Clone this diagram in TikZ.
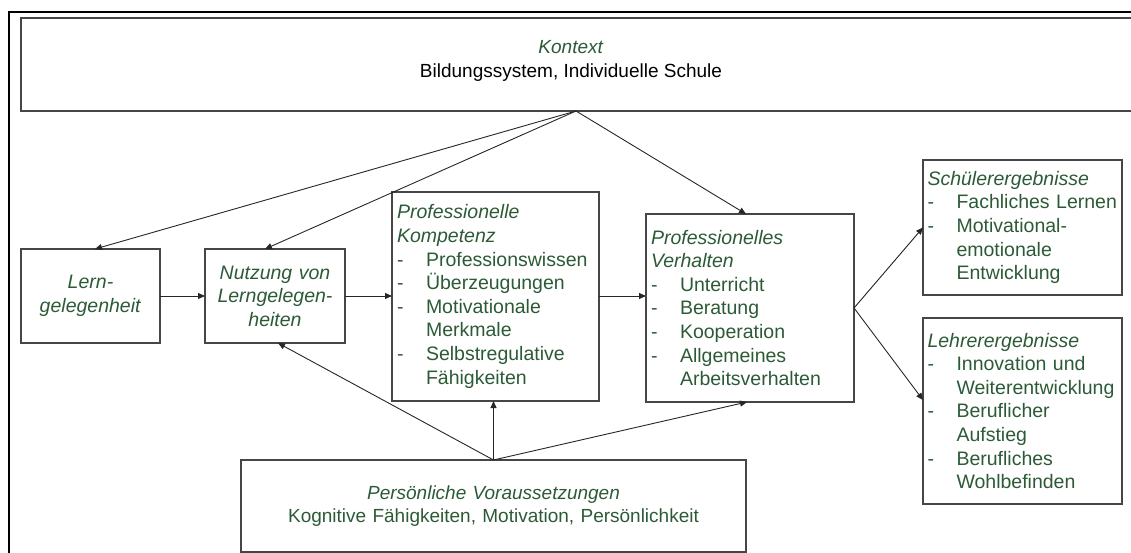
\documentclass[tikz,border=0pt]{standalone}
\usepackage{fontspec}
\setmainfont{Liberation Sans}
\usetikzlibrary{arrows.meta,calc}
\definecolor{tgreen}{RGB}{44,90,54}
\definecolor{boxgray}{RGB}{70,70,70}
\newcommand\itm[1]{\makebox[29pt][l]{-}\mbox{#1}}
\newcommand\itc[1]{\hspace*{29pt}\mbox{#1}}
\begin{document}
\begin{tikzpicture}[x=1pt,y=-1pt,
  every node/.style={font=\fontsize{19}{23.6}\selectfont, text=tgreen},
  box/.style={draw=boxgray, line width=1.2pt, rectangle, inner xsep=5pt, inner ysep=0pt, outer sep=0pt},
  lbox/.style={box, align=left, font=\fontsize{19.5}{23.6}\selectfont},
  cbox/.style={box, align=center, font=\fontsize{19.5}{23.6}\selectfont},
  arr/.style={draw=black!85, line width=0.9pt, -{Triangle[length=7pt,width=6pt]}}
]
\useasboundingbox (0,0) rectangle (1131,553);
\clip (0,0) rectangle (1131,553);
% outer frame
\draw[line width=2pt, black] (9,560) -- (9,12.5) -- (1140,12.5);
% context
\node[box, minimum width=1119pt, minimum height=93pt] (ctx) at (580.5,64.5) {};
\node[align=center, inner sep=0pt] (ctxtext) at (571,61) {\textit{Kontext}\\\textcolor{black}{Bildungssystem, Individuelle Schule}};
\coordinate (apex) at (576,111);
% row boxes
\node[cbox, text width=129pt, minimum height=94pt] (lg) at (90.5,296) {\textit{Lern-}\\\textit{gelegenheit}};
\node[cbox, text width=130pt, minimum height=94pt] (nl) at (275,296) {\textit{Nutzung von}\\\textit{Lerngelegen-}\\\textit{heiten}};
\node[lbox, text width=197pt, minimum height=209pt] (pk) at (495.5,296.5) {\textit{Professionelle}\\\textit{Kompetenz}\\\itm{Professionswissen}\\\itm{Überzeugungen}\\\itm{Motivationale}\\\itc{Merkmale}\\\itm{Selbstregulative}\\\itc{Fähigkeiten}};
\node[lbox, text width=198pt, minimum height=188pt] (vh) at (750,308) {\textit{Professionelles}\\\textit{Verhalten}\\\itm{Unterricht}\\\itm{Beratung}\\\itm{Kooperation}\\\itm{Allgemeines}\\\itc{Arbeitsverhalten}};
\node[lbox, text width=190pt, inner xsep=4.5pt, minimum height=135pt] (su) at (1022.5,227.5) {\textit{Schülerergebnisse}\\\itm{Fachliches Lernen}\\\itm{Motivational-}\\\itc{emotionale}\\\itc{Entwicklung}};
\node[lbox, text width=190pt, inner xsep=4.5pt, minimum height=186pt] (le) at (1022.5,411) {\textit{Lehrerergebnisse}\\\itm{Innovation und}\\\itc{Weiterentwicklung}\\\itm{Beruflicher}\\\itc{Aufstieg}\\\itm{Berufliches}\\\itc{Wohlbefinden}};
\node[box, align=center, text width=495pt, minimum height=92pt] (pv) at (493.5,506) {\textit{Persönliche Voraussetzungen}\\Kognitive Fähigkeiten, Motivation, Persönlichkeit};
% arrows from context
\draw[arr] (apex) -- ($(lg.north)+(4.5,0)$);
\draw[arr] (apex) -- ($(nl.north)+(-10,0)$);
\draw[arr] (apex) -- ($(vh.north)+(-4,0)$);
% horizontal chain
\draw[arr] (lg.east) -- (nl.west);
\draw[arr] (nl.east) -- (nl.east -| pk.west);
\draw[arr] (pk.east |- nl.east) -- (nl.east -| vh.west);
% outcomes
\draw[arr] (vh.east) -- (su.west);
\draw[arr] (vh.east) -- ($(le.west)+(0,-11)$);
% personal prerequisites
\draw[arr] (pv.north) -- ($(nl.south)+(3,0)$);
\draw[arr] (pv.north) -- (pv.north |- pk.south);
\draw[arr] (pv.north) -- ($(vh.south)+(-3,0)$);
\end{tikzpicture}
\end{document}
